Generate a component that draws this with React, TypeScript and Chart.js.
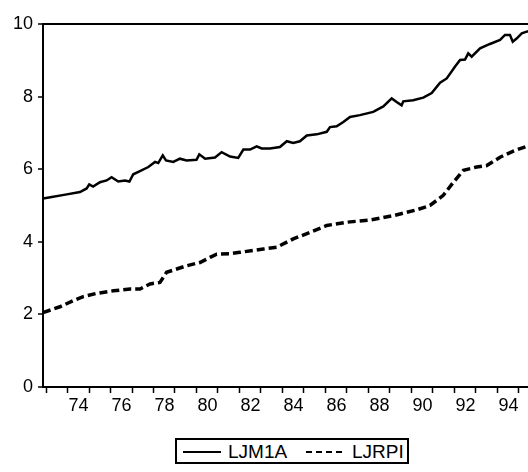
import React, { useEffect, useRef } from "react";
import { Chart, registerables } from "chart.js";

Chart.register(...registerables);

// LJM1A (solid line): year, value
const m1Years = [
  1972.86, 1973.2, 1973.9, 1974.58, 1974.89, 1975.01, 1975.19, 1975.51, 1975.82, 1976.05,
  1976.36, 1976.67, 1976.88, 1977.06, 1977.37, 1977.76, 1978.07, 1978.22, 1978.43, 1978.58,
  1978.92, 1979.23, 1979.54, 1980.0, 1980.13, 1980.4, 1980.86, 1981.17, 1981.56, 1981.94,
  1982.18, 1982.49, 1982.8, 1983.03, 1983.42, 1983.88, 1984.2, 1984.5, 1984.81, 1985.13,
  1985.59, 1986.06, 1986.21, 1986.52, 1986.83, 1987.14, 1987.6, 1988.22, 1988.69, 1989.08,
  1989.31, 1989.54, 1989.62, 1990.08, 1990.55, 1990.94, 1991.33, 1991.64, 1992.02, 1992.26,
  1992.49, 1992.64, 1992.8, 1993.19, 1993.65, 1994.12, 1994.35, 1994.58, 1994.71, 1994.89,
  1995.13, 1995.36, 1995.45,
];
const m1Values = [
  5.19, 5.23, 5.3, 5.37, 5.47, 5.58, 5.52, 5.64, 5.69, 5.78,
  5.66, 5.69, 5.66, 5.86, 5.95, 6.06, 6.2, 6.17, 6.38, 6.24,
  6.2, 6.29, 6.24, 6.26, 6.41, 6.29, 6.32, 6.47, 6.35, 6.31,
  6.54, 6.54, 6.63, 6.57, 6.57, 6.61, 6.77, 6.72, 6.77, 6.93,
  6.96, 7.03, 7.16, 7.18, 7.3, 7.44, 7.49, 7.58, 7.73, 7.95,
  7.85, 7.76, 7.87, 7.9, 7.97, 8.1, 8.38, 8.5, 8.82, 9.01,
  9.02, 9.19, 9.1, 9.33, 9.45, 9.56, 9.7, 9.7, 9.51, 9.6,
  9.74, 9.79, 9.8,
];

// LJRPI (dashed line): year, value
const rpiYears = [
  1972.86, 1973.65, 1974.27, 1974.73, 1975.36, 1976.13, 1976.91, 1977.37, 1977.84, 1978.3,
  1978.61, 1978.92, 1979.54, 1980.16, 1980.63, 1980.94, 1981.56, 1982.02, 1983.11, 1983.73,
  1984.5, 1985.28, 1986.06, 1987.0, 1988.07, 1989.15, 1990.24, 1990.86, 1991.48, 1991.95,
  1992.42, 1993.03, 1993.5, 1994.12, 1994.74, 1995.36, 1995.45,
];
const rpiValues = [
  2.05, 2.21, 2.38, 2.49, 2.58, 2.65, 2.7, 2.7, 2.84, 2.88,
  3.16, 3.22, 3.34, 3.43, 3.57, 3.66, 3.67, 3.71, 3.8, 3.85,
  4.08, 4.26, 4.45, 4.54, 4.6, 4.72, 4.88, 5.0, 5.28, 5.64,
  5.97, 6.06, 6.1, 6.33, 6.5, 6.63, 6.65,
];

const xTickYears = [
  1973, 1974, 1975, 1976, 1977, 1978, 1979, 1980, 1981, 1982, 1983, 1984,
  1985, 1986, 1987, 1988, 1989, 1990, 1991, 1992, 1993, 1994, 1995,
];
const xLabelYears = [1974, 1976, 1978, 1980, 1982, 1984, 1986, 1988, 1990, 1992, 1994];
const yTicks = [0, 2, 4, 6, 8, 10];
const seriesNames = ["LJM1A", "LJRPI"];

const FONT = '"Liberation Sans", Arial, sans-serif';

export default function App() {
  const ref = useRef<HTMLCanvasElement | null>(null);

  useEffect(() => {
    document.body.style.margin = "0";
    const canvas = ref.current;
    if (!canvas) return;
    const chart = new Chart(canvas, {
      type: "line",
      data: {
        datasets: [
          {
            label: seriesNames[0],
            data: m1Years.map((x, i) => ({ x, y: m1Values[i] })),
            borderColor: "#000",
            borderWidth: 2.5,
            pointRadius: 0,
            tension: 0,
            fill: false,
          },
          {
            label: seriesNames[1],
            data: rpiYears.map((x, i) => ({ x, y: rpiValues[i] })),
            borderColor: "#000",
            borderWidth: 3.5,
            borderDash: [8, 4],
            pointRadius: 0,
            tension: 0,
            fill: false,
          },
        ],
      },
      options: {
        responsive: false,
        maintainAspectRatio: false,
        animation: false,
        layout: { padding: { top: 24, right: 0, left: 0, bottom: 0 } },
        plugins: { legend: { display: false }, tooltip: { enabled: false } },
        scales: {
          x: {
            type: "linear",
            min: 1972.86,
            max: 1995.42,
            afterBuildTicks: (scale: any) => {
              scale.ticks = xTickYears.map((v) => ({ value: v }));
            },
            afterFit: (scale: any) => {
              scale.height = 48;
            },
            ticks: {
              autoSkip: false,
              maxRotation: 0,
              minRotation: 0,
              labelOffset: 11,
              padding: 2,
              color: "#000",
              font: { family: FONT, size: 18 },
              callback: (v: any) =>
                xLabelYears.includes(Number(v)) ? String(Number(v) % 100) : "",
            },
            grid: {
              drawOnChartArea: false,
              drawTicks: true,
              tickLength: 6,
              tickColor: "#000",
              tickWidth: 1.5,
            },
            border: { display: true, color: "#000", width: 2 },
          },
          y: {
            min: 0,
            max: 10,
            afterBuildTicks: (scale: any) => {
              scale.ticks = yTicks.map((v) => ({ value: v }));
            },
            afterFit: (scale: any) => {
              scale.width = 43;
            },
            ticks: {
              color: "#000",
              padding: 5,
              font: { family: FONT, size: 18 },
              callback: (v: any) => String(v),
            },
            grid: {
              drawOnChartArea: true,
              color: (ctx: any) => (ctx.tick && ctx.tick.value === 10 ? "#000" : "rgba(0,0,0,0)"),
              lineWidth: 2,
              drawTicks: true,
              tickLength: 5,
              tickColor: "#000",
              tickWidth: 1.5,
            },
            border: { display: true, color: "#000", width: 2 },
          },
        },
      },
    });
    return () => chart.destroy();
  }, []);

  return (
    <div style={{ position: "relative", width: 528, height: 472, background: "#fff", fontFamily: FONT }}>
      <canvas ref={ref} width={528} height={435} style={{ display: "block" }} />
      <div
        style={{
          position: "absolute",
          left: 175,
          top: 438,
          width: 234,
          height: 26,
          boxSizing: "border-box",
          border: "2px solid #000",
        }}
      >
        <svg
          width={40}
          height={6}
          style={{ position: "absolute", left: 6, top: 9 }}
        >
          <line x1={0} y1={3} x2={38} y2={3} stroke="#000" strokeWidth={2} />
        </svg>
        <span
          style={{
            position: "absolute",
            left: 51,
            top: 1,
            fontSize: 19,
            lineHeight: "21px",
            color: "#000",
          }}
        >
          {seriesNames[0]}
        </span>
        <svg
          width={40}
          height={6}
          style={{ position: "absolute", left: 129, top: 9 }}
        >
          <line x1={0} y1={3} x2={38} y2={3} stroke="#000" strokeWidth={2} strokeDasharray="6,4" />
        </svg>
        <span
          style={{
            position: "absolute",
            left: 175,
            top: 1,
            fontSize: 19,
            lineHeight: "21px",
            color: "#000",
          }}
        >
          {seriesNames[1]}
        </span>
      </div>
    </div>
  );
}
